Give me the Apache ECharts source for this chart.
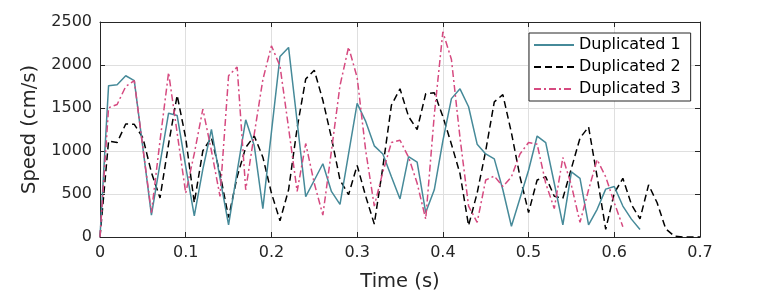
<!DOCTYPE html>
<html><head><meta charset="utf-8">
<script src="https://cdn.jsdelivr.net/npm/echarts@6/dist/echarts.min.js"></script>
<style>html,body{margin:0;padding:0;background:#fff}#c{width:772px;height:297px}</style>
</head><body><div id="c"></div>
<script>
const timeS = [0,0.01,0.02,0.03,0.04,0.05,0.06,0.07,0.08,0.09,0.10,0.11,0.12,0.13,0.14,0.15,0.16,0.17,0.18,0.19,0.20,0.21,0.22,0.23,0.24,0.25,0.26,0.27,0.28,0.29,0.30,0.31,0.32,0.33,0.34,0.35,0.36,0.37,0.38,0.39,0.40,0.41,0.42,0.43,0.44,0.45,0.46,0.47,0.48,0.49,0.50,0.51,0.52,0.53,0.54,0.55,0.56,0.57,0.58,0.59,0.60,0.61,0.62,0.63,0.64,0.65,0.66,0.67,0.68,0.69,0.70];
const dup1 = [0,1760,1770,1875,1818,1040,254,852,1440,1413,818,246,790,1250,685,140,761,1363,1060,330,1220,2100,2204,1340,470,660,852,530,380,966,1553,1344,1060,966,700,443,935,871,284,549,1117,1609,1723,1515,1079,966,909,549,125,450,776,1174,1098,625,140,757,682,140,322,557,587,360,208,87];
const dup2 = [0,1117,1098,1314,1310,1155,750,454,1080,1647,1150,398,1003,1155,738,227,700,1041,1174,928,511,189,549,1269,1837,1939,1590,1155,663,492,833,473,151,814,1534,1723,1401,1250,1666,1678,1401,1079,738,133,511,1003,1572,1655,1212,700,284,663,700,474,450,800,1150,1280,700,90,511,682,379,210,606,398,95,10,0,0,0];
const dup3 = [0,1503,1541,1750,1818,1040,284,1117,1912,1210,511,970,1488,1003,473,1875,1977,549,1200,1830,2223,1988,1269,530,1087,625,254,1000,1761,2208,1856,1003,360,757,1098,1125,928,625,208,1420,2386,2064,1155,360,170,663,708,587,700,966,1098,1079,625,330,925,600,170,549,900,700,398,120];
const names = ['Duplicated 1','Duplicated 2','Duplicated 3'];
const xTicks = ['0','0.1','0.2','0.3','0.4','0.5','0.6','0.7'];
const yTicks = ['0','500','1000','1500','2000','2500'];

const pair = vals => vals.map((v,i)=>[timeS[i], v]);
const font = 'DejaVu Sans';
const txt = '#262626';
const chart = echarts.init(document.getElementById('c'), null, {renderer:'canvas'});
const axCommon = {
  axisLine:{show:true,onZero:false,lineStyle:{color:txt,width:1}},
  axisTick:{show:true,inside:true,length:5,lineStyle:{color:txt}},
};
chart.setOption({
  animation:false,
  backgroundColor:'#fff',
  grid:{left:100,right:72,top:22,bottom:55},
  legend:{
    data:names, orient:'vertical', left:529, top:33,
    backgroundColor:'#fff', borderColor:txt, borderWidth:1, borderRadius:0,
    padding:[4,10,4,4], itemWidth:40, itemHeight:14, itemGap:6,
    itemStyle:{opacity:0},
    textStyle:{fontFamily:font,fontSize:16,color:'#000'}
  },
  xAxis:[
    Object.assign({type:'value',min:0,max:0.7,interval:0.1,
      name:'Time (s)',nameLocation:'middle',nameGap:35,
      nameTextStyle:{fontFamily:font,fontSize:19.5,color:txt},
      axisLabel:{fontFamily:font,fontSize:16,color:txt,margin:8,
        formatter:v=>xTicks[Math.round(v*10)]},
      splitLine:{show:true,lineStyle:{color:'#dfdfdf',width:1}}},axCommon),
    Object.assign({type:'value',min:0,max:0.7,interval:0.1,position:'top',
      axisLabel:{show:false},splitLine:{show:false}},axCommon)
  ],
  yAxis:[
    Object.assign({type:'value',min:0,max:2500,interval:500,
      name:'Speed (cm/s)',nameLocation:'middle',nameGap:52,
      nameTextStyle:{fontFamily:font,fontSize:19.5,color:txt},
      axisLabel:{fontFamily:font,fontSize:16,color:txt,margin:8,
        formatter:v=>yTicks[Math.round(v/500)]},
      splitLine:{show:true,lineStyle:{color:'#dfdfdf',width:1}}},axCommon),
    Object.assign({type:'value',min:0,max:2500,interval:500,position:'right',
      axisLabel:{show:false},splitLine:{show:false}},axCommon)
  ],
  series:[
    {name:names[0],type:'line',data:pair(dup1),symbol:'none',
      lineStyle:{color:'#468a99',width:1.5,type:'solid'},itemStyle:{color:'#468a99'},z:3},
    {name:names[1],type:'line',data:pair(dup2),symbol:'none',
      lineStyle:{color:'#000000',width:1.5,type:[7,4]},itemStyle:{color:'#000000'},z:2},
    {name:names[2],type:'line',data:pair(dup3),symbol:'none',
      lineStyle:{color:'#d64a80',width:1.5,type:[7,3,2,3]},itemStyle:{color:'#d64a80'},z:4}
  ]
});
</script></body></html>
